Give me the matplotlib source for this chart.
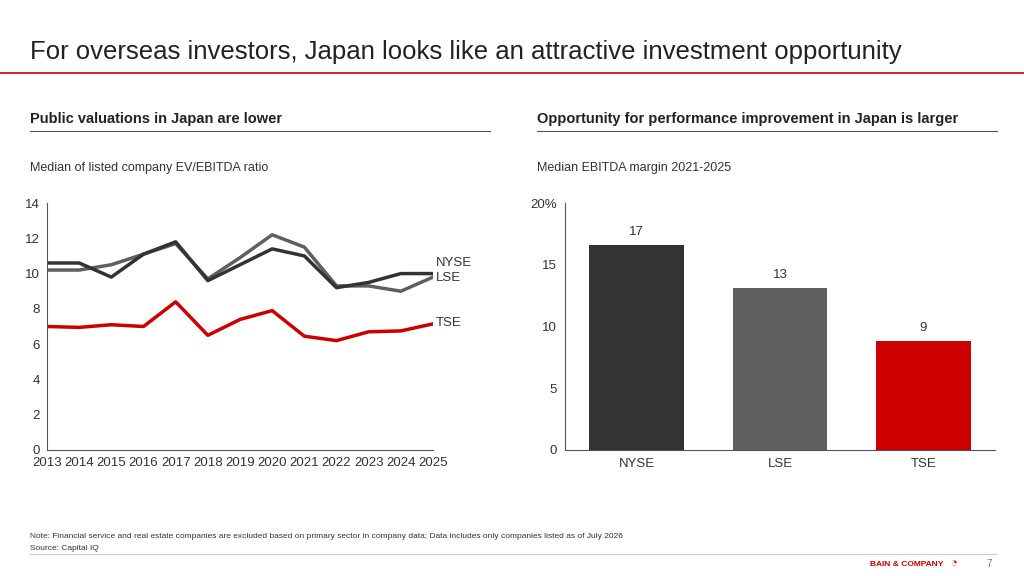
import matplotlib
matplotlib.use("Agg")
import matplotlib.pyplot as plt

years = list(range(2013, 2026))
nyse = [10.6, 10.6, 9.8, 11.1, 11.8, 9.6, 10.5, 11.4, 11.0, 9.2, 9.5, 10.0, 10.0]
lse = [10.2, 10.2, 10.5, 11.1, 11.7, 9.7, 10.9, 12.2, 11.5, 9.3, 9.3, 9.0, 9.8]
tse = [7.0, 6.95, 7.1, 7.0, 8.4, 6.5, 7.4, 7.9, 6.45, 6.2, 6.7, 6.75, 7.15]
bar_cats = ["NYSE", "LSE", "TSE"]
bar_vals = [16.6, 13.1, 8.8]
bar_labels = ["17", "13", "9"]

plt.rcParams['font.family'] = ['Liberation Sans', 'DejaVu Sans']
W, H = 1024, 576
fig = plt.figure(figsize=(W/100, H/100), dpi=100)
RED = '#cc0000'; DARK = '#333333'; MID = '#5f5f5f'; TXT = '#333333'

def fx(px): return px / W
def fy(py): return 1 - py / H

fig.text(fx(30), fy(52), "For overseas investors, Japan looks like an attractive investment opportunity",
         fontsize=18.5, color='#222222', va='center')
fig.add_artist(plt.Line2D([0, 1], [fy(73), fy(73)], color=RED, lw=1.2))
fig.text(fx(30), fy(119), "Public valuations in Japan are lower", fontsize=10.5, weight='bold', va='center', color='#222222')
fig.add_artist(plt.Line2D([fx(30), fx(490)], [fy(131), fy(131)], color='#555555', lw=0.8))
fig.text(fx(537), fy(119), "Opportunity for performance improvement in Japan is larger", fontsize=10.5, weight='bold', va='center', color='#222222')
fig.add_artist(plt.Line2D([fx(537), fx(997)], [fy(131), fy(131)], color='#555555', lw=0.8))
fig.text(fx(30), fy(168), "Median of listed company EV/EBITDA ratio", fontsize=9, va='center', color=TXT)
fig.text(fx(537), fy(168), "Median EBITDA margin 2021-2025", fontsize=9, va='center', color=TXT)

ax = fig.add_axes([fx(47), fy(450), fx(433-47), fy(203) - fy(450)])
ax.plot(years, lse, color=MID, lw=2.5)
ax.plot(years, nyse, color=DARK, lw=2.5)
ax.plot(years, tse, color=RED, lw=2.5)
ax.set_ylim(0, 14); ax.set_xlim(2013, 2025)
ax.set_yticks(range(0, 15, 2)); ax.set_xticks(years)
ax.tick_params(length=0, labelsize=9.5, colors=TXT)
ax.tick_params(axis='x', pad=5)
ax.tick_params(axis='y', pad=5)
for s in ['top', 'right']: ax.spines[s].set_visible(False)
for s in ['left', 'bottom']: ax.spines[s].set_color('#555555')
ax.text(2025.1, nyse[-1] + 0.6, "NYSE", fontsize=9.5, color=TXT, va='center', clip_on=False)
ax.text(2025.1, lse[-1] - 0.05, "LSE", fontsize=9.5, color=TXT, va='center', clip_on=False)
ax.text(2025.1, tse[-1] + 0.05, "TSE", fontsize=9.5, color=TXT, va='center', clip_on=False)

ax2 = fig.add_axes([fx(565), fy(450), fx(995-565), fy(203) - fy(450)])
ax2.bar(bar_cats, bar_vals, color=[DARK, MID, RED], width=0.66)
for i, (v, l) in enumerate(zip(bar_vals, bar_labels)):
    ax2.text(i, v + 0.6, l, ha='center', va='bottom', fontsize=9.5, color=TXT)
ax2.set_ylim(0, 20); ax2.set_xlim(-0.5, 2.5)
ax2.set_yticks([0, 5, 10, 15, 20]); ax2.set_yticklabels(['0', '5', '10', '15', '20%'])
ax2.tick_params(length=0, labelsize=9.5, colors=TXT, pad=6)
for s in ['top', 'right']: ax2.spines[s].set_visible(False)
for s in ['left', 'bottom']: ax2.spines[s].set_color('#555555')

fig.text(fx(30), fy(537), "Note: Financial service and real estate companies are excluded based on primary sector in company data; Data includes only companies listed as of July 2026",
         fontsize=6, va='center', color=TXT)
fig.text(fx(30), fy(548), "Source: Capital IQ", fontsize=6, va='center', color=TXT)
fig.add_artist(plt.Line2D([fx(30), fx(996)], [fy(554), fy(554)], color='#cccccc', lw=0.8))
fig.text(fx(943), fy(564), "BAIN & COMPANY", fontsize=6, weight='bold', color=RED, ha='right', va='center')
fig.text(fx(953), fy(564), "\u25d4", fontsize=8, color=RED, ha='center', va='center')
fig.text(fx(992), fy(564), "7", fontsize=7, color='#777777', ha='right', va='center')

fig.savefig("out.png", dpi=100)
